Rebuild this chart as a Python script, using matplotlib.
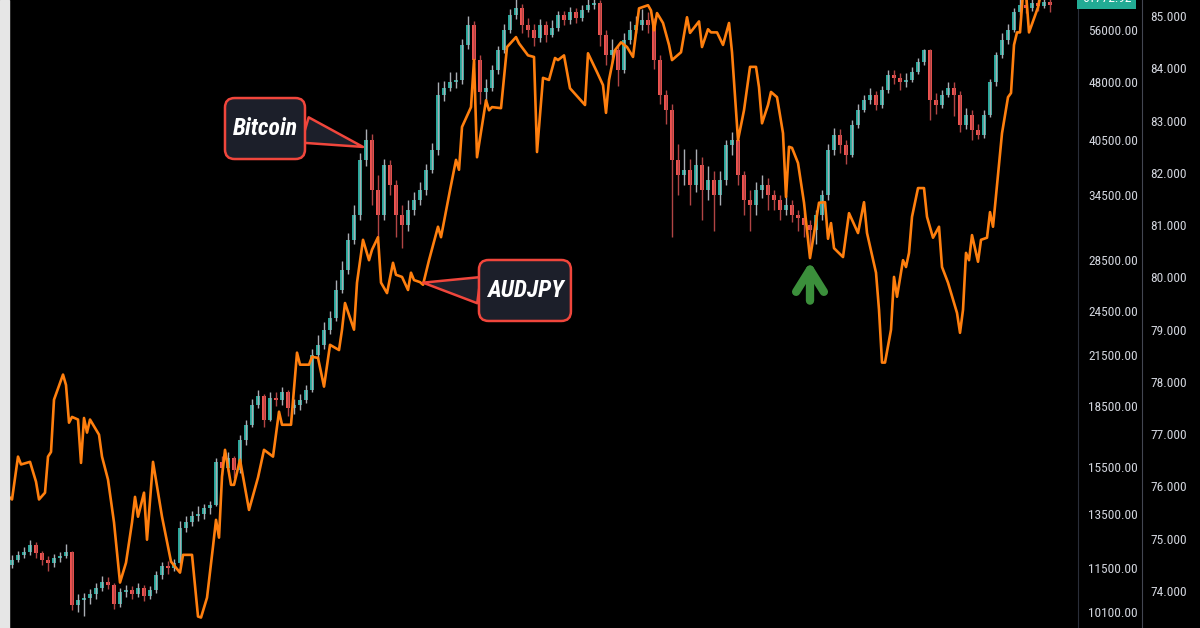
import matplotlib.pyplot as plt
import matplotlib.ticker as mticker
from matplotlib import font_manager as fm
from matplotlib.textpath import TextPath
from matplotlib.patches import Rectangle, FancyBboxPatch
import numpy as np

# Bitcoin, 2-day candles (open = previous close)
btc_first_open = 11600
btc_close = [11770, 11940, 12050, 12300, 12020, 11770, 11670, 11840, 11910, 12050,
             10310, 10460, 10520, 10650, 10840, 11030, 10940, 10340, 10710, 10780,
             10650, 10840, 10590, 10780, 11260, 11560, 11500, 11670, 12930, 13160,
             13400, 13480, 13720, 13840, 15710, 15430, 15890, 15340, 16760, 17510,
             18570, 19070, 17770, 18960, 18850, 19300, 18410, 18570, 18850, 19410,
             21520, 22160, 23160, 23990, 26050, 27630, 30180, 32490, 38200, 40510,
             34970, 32490, 37640, 35490, 32490, 31550, 32970, 33960, 34970, 37090,
             39340, 46250, 47210, 48050, 48340, 53580, 56830, 51270, 46660, 47210,
             49780, 52800, 56000, 58530, 59750, 56830, 56000, 54700, 56830, 55180,
             56330, 58530, 57670, 59050, 58010, 59390, 60280, 60630, 55180, 52030,
             52800, 49780, 54380, 56000, 56830, 57670, 56830, 51270, 46250, 44250,
             38200, 36550, 37090, 35490, 37640, 34970, 36010, 34460, 36010, 39920,
             40510, 36550, 33960, 33460, 34970, 35490, 34460, 33960, 32970, 33460,
             32490, 32200, 31550, 31090, 32490, 34460, 39340, 41110, 39920, 38760,
             42340, 44250, 45580, 46250, 44910, 46940, 49050, 48620, 48050, 48340,
             49490, 50970, 52800, 45580, 44910, 46250, 47210, 46250, 42340, 43610,
             41720, 41110, 43610, 48050, 52030, 54380, 56000, 59050, 60280, 59750,
             60630, 60100, 60810, 60280]
btc_high = [11950, 12100, 12250, 12500, 12400, 12100, 11900, 12000, 12050, 12350,
            12100, 10650, 10700, 10800, 11000, 11250, 11200, 11000, 10850, 10950,
            10900, 11000, 10950, 10900, 11400, 11700, 11750, 11800, 13200, 13400,
            13600, 13800, 13900, 14000, 15900, 16000, 16200, 16000, 17000, 17800,
            18900, 19400, 19200, 19300, 19300, 19600, 19400, 18900, 19200, 19700,
            21900, 22800, 23700, 24500, 26800, 28400, 30800, 33500, 39000, 41900,
            41300, 36500, 38300, 38200, 36000, 33500, 34000, 34800, 35800, 37800,
            40200, 48000, 48200, 49500, 49500, 54500, 58300, 57500, 52000, 48500,
            50500, 53500, 57000, 59500, 61500, 60500, 58000, 57000, 57800, 57500,
            57600, 59200, 59300, 60000, 59800, 60300, 61500, 64000, 61200, 56000,
            54500, 53500, 55500, 57500, 58300, 59500, 59000, 58000, 52000, 47000,
            45000, 40000, 39500, 38300, 39500, 38500, 37500, 37000, 37000, 40500,
            41500, 41000, 37000, 35000, 35800, 36500, 36200, 35000, 34500, 34500,
            34000, 33000, 32800, 32000, 33000, 35000, 40000, 42000, 41800, 40500,
            43000, 45000, 46300, 47200, 46800, 47500, 49800, 49800, 49300, 49300,
            50200, 51600, 53000, 53000, 46500, 47000, 48000, 48000, 46800, 44500,
            44200, 42500, 44200, 48500, 52500, 55500, 57000, 59800, 61500, 61800,
            62000, 61800, 62500, 61500]
btc_low = [11500, 11700, 11850, 11950, 11850, 11600, 11400, 11550, 11700, 11850,
           10150, 10100, 10000, 10350, 10500, 10750, 10800, 10200, 10250, 10550,
           10500, 10550, 10450, 10500, 10700, 11150, 11300, 11400, 11600, 12800,
           13000, 13200, 13300, 13500, 13800, 15100, 15300, 15000, 15200, 16500,
           17400, 18400, 17400, 17700, 18500, 18600, 18000, 18100, 18300, 18700,
           19300, 21300, 21900, 22900, 23800, 25800, 27300, 29800, 32000, 37500,
           33500, 30500, 32000, 34500, 30500, 29500, 31000, 32500, 33500, 34500,
           36800, 38800, 45500, 46800, 47200, 47800, 53000, 50500, 45000, 45500,
           46800, 49200, 52300, 55500, 57800, 55500, 54800, 53500, 54000, 54000,
           54800, 55800, 56800, 57000, 57200, 57500, 59000, 59500, 53500, 50500,
           50800, 47500, 49300, 53800, 55500, 56000, 55500, 50000, 45000, 42500,
           30500, 34500, 35500, 33500, 34800, 32000, 34000, 31000, 33500, 35500,
           38800, 35500, 32500, 31000, 32500, 34200, 33000, 33000, 32000, 32500,
           31800, 31000, 30500, 29300, 29800, 32000, 34000, 38800, 39000, 37800,
           38500, 42000, 44000, 45000, 44300, 44500, 46500, 47800, 47000, 47300,
           48000, 49200, 50500, 43000, 43800, 44500, 46000, 43500, 41500, 41800,
           40500, 40600, 40800, 43300, 47500, 51500, 53800, 55600, 58500, 58800,
           59300, 59200, 59800, 59000]

# AUDJPY, sampled on the same day axis
audjpy_day = [-1, 0, 2, 3, 6, 8, 9, 11, 12, 13,
              14, 17, 18, 19, 20, 22, 23, 24, 25, 26,
              29, 30, 32, 34, 36, 38, 40, 41, 42, 44,
              45, 47, 50, 53, 56, 57, 60, 62, 63, 65,
              67, 68, 69, 70, 71, 73, 74, 76, 79, 82,
              84, 87, 89, 90, 93, 95, 96, 99, 100, 102,
              104, 106, 109, 110, 111, 114, 115, 117, 119, 120,
              122, 123, 125, 127, 128, 130, 132, 133, 134, 136,
              137, 139, 142, 143, 146, 148, 149, 150, 153, 154,
              155, 158, 159, 160, 163, 165, 168, 169, 172, 174,
              175, 177, 179, 181, 182, 184, 186, 191, 192, 195,
              197, 198, 199, 201, 203, 205, 207, 209, 212, 213,
              214, 215, 217, 219, 220, 223, 225, 226, 229, 230,
              232, 233, 235, 237, 239, 240, 242, 244, 246, 248,
              249, 250, 252, 253, 255, 257, 258, 259, 260, 262,
              264, 266, 269, 271, 272, 273, 274, 277, 279, 282,
              284, 285, 288, 289, 290, 291, 293, 294, 295, 297,
              298, 299, 300, 302, 304, 305, 307, 309, 310, 312,
              315, 316, 317, 318, 319, 320, 322, 323, 325, 326,
              327, 330, 332, 333, 334, 335, 336, 337, 338, 339,
              342, 343, 347]
audjpy = [75.80, 75.75, 76.57, 76.42, 76.47, 76.09, 75.75, 75.88, 76.57, 76.66,
          77.66, 78.14, 77.94, 77.22, 77.33, 77.28, 76.45, 77.31, 77.03, 77.28,
          76.99, 76.57, 76.13, 75.31, 74.16, 74.54, 75.31, 75.80, 75.42, 75.88,
          74.98, 76.47, 75.42, 74.56, 74.35, 74.69, 74.69, 73.51, 73.49, 73.87,
          74.85, 75.36, 75.02, 76.19, 76.70, 76.03, 76.03, 76.51, 75.55, 76.17,
          76.70, 76.57, 77.43, 77.18, 77.18, 78.56, 78.33, 78.33, 78.48, 78.46,
          77.91, 78.71, 78.61, 79.00, 79.51, 79.00, 79.90, 80.72, 80.33, 80.53,
          80.77, 79.90, 79.70, 80.28, 80.05, 80.01, 79.76, 80.09, 79.95, 79.91,
          79.86, 80.33, 80.97, 80.77, 81.67, 82.25, 82.06, 82.88, 83.26, 84.16,
          82.30, 83.39, 83.20, 83.26, 83.24, 84.41, 84.60, 84.48, 84.25, 84.22,
          82.40, 83.82, 83.78, 84.20, 84.16, 84.25, 83.62, 83.30, 84.29, 83.93,
          83.68, 83.15, 83.78, 84.35, 84.50, 84.41, 84.22, 85.15, 85.21, 85.11,
          84.73, 85.06, 84.87, 84.45, 84.16, 84.31, 84.98, 84.68, 84.90, 84.41,
          84.75, 84.69, 84.69, 84.45, 84.87, 84.31, 82.63, 83.20, 84.03, 84.03,
          83.64, 82.95, 83.30, 83.55, 83.45, 82.76, 81.54, 82.50, 82.48, 82.19,
          81.43, 80.37, 81.43, 81.44, 80.74, 81.04, 80.56, 80.39, 81.23, 80.85,
          81.44, 80.85, 80.09, 79.38, 78.37, 78.37, 79.00, 80.01, 79.63, 80.33,
          80.20, 80.47, 81.16, 81.71, 81.71, 81.16, 80.76, 80.97, 80.20, 79.90,
          79.32, 78.94, 79.38, 80.47, 80.33, 80.81, 80.30, 80.72, 80.76, 81.25,
          80.97, 82.76, 83.45, 83.53, 84.45, 84.69, 84.69, 85.45, 85.45, 84.69,
          85.17, 85.45, 85.50]

btc_ticks = [10100, 11500, 13500, 15500, 18500, 21500, 24500, 28500, 34500, 40500, 48000, 56000]
audjpy_ticks = [74, 75, 76, 77, 78, 79, 80, 81, 82, 83, 84, 85]
last_price = '61772.92'

UP, DOWN = '#26a69a', '#ef5350'
ORANGE = '#ff7f0e'
RED_EDGE = '#f0463c'
BOX_BG = '#1c1f2a'
LABEL = '#d1d4dc'

# pick a narrow face if one is installed (the source uses condensed type)
available = {f.name for f in fm.fontManager.ttflist}
narrow = next((n for n in ['Liberation Sans Narrow', 'Roboto Condensed', 'Open Sans Condensed',
                           'DejaVu Sans Condensed'] if n in available), 'Liberation Sans')
plt.rcParams['font.family'] = [narrow, 'Liberation Sans', 'DejaVu Sans']


def size_for_width(text, px, cap, **kw):
    fp = fm.FontProperties(family=[narrow, 'Liberation Sans', 'DejaVu Sans'], **kw)
    w = TextPath((0, 0), text, size=1, prop=fp).get_extents().width
    return min(px / w * 0.72, cap)


tick_size = size_for_width('56000.00', 48, 11)
call_size = size_for_width('Bitcoin', 64, 18, weight='bold', style='italic')

close = np.array(btc_close, dtype=float)
high = np.array(btc_high, dtype=float)
low = np.array(btc_low, dtype=float)
opens = np.r_[btc_first_open, close[:-1]]
day = np.arange(len(close)) * 2
up = close >= opens

fig = plt.figure(figsize=(12, 6.28), dpi=100, facecolor='black')
fig.patches.append(Rectangle((0, 0), 9 / 1200, 1, transform=fig.transFigure,
                             color='#e6e6e6', zorder=0))
ax = fig.add_axes([10 / 1200, 0, 1068 / 1200, 1])
ax.set_facecolor('black')
ax.set_yscale('log')
ax2 = ax.twinx()

ax.vlines(day, low, high, colors=np.where(up, '#a9adb3', '#b04444'), lw=1)
ax.bar(day, np.maximum(np.abs(close - opens), close * 0.002),
       bottom=np.minimum(close, opens), width=1.3,
       color=np.where(up, UP, DOWN), lw=0)

ax.set_xlim(-0.67, 355.33)
ax.set_ylim(9640, 61170)
ax.yaxis.tick_right()
ax.yaxis.set_label_position('right')
ax.set_yticks(btc_ticks)
ax.set_yticklabels([f'{t:.2f}' for t in btc_ticks])
ax.yaxis.set_minor_locator(mticker.NullLocator())
ax.tick_params(axis='y', which='both', left=False, right=False, labelleft=False, labelright=True,
               pad=4, labelsize=tick_size, labelcolor=LABEL)
ax.set_xticks([])
for s in ['top', 'bottom', 'left']:
    ax.spines[s].set_visible(False)
ax.spines['right'].set_color('#2a2e39')

ax.text(1.027, 1.003, last_price, transform=ax.transAxes, ha='center', va='center',
        color='white', fontsize=tick_size,
        bbox=dict(boxstyle='square,pad=0.35', fc='#22ab94', ec='none'), clip_on=False)

ax2.plot(audjpy_day, audjpy, color=ORANGE, lw=1.9, zorder=3)
ax2.set_ylim(73.29, 85.31)
ax2.set_yticks(audjpy_ticks)
ax2.set_yticklabels([f'{t:.3f}' for t in audjpy_ticks])
ax2.tick_params(axis='y', length=0, pad=6, labelsize=tick_size, labelcolor=LABEL)
for s in ['top', 'bottom', 'left']:
    ax2.spines[s].set_visible(False)
ax2.spines['right'].set_position(('axes', (1142 - 10) / 1068))
ax2.spines['right'].set_color('#434651')


def callout(axis, label, tip, box, base):
    # wedge tail from the box edge to the point, then the rounded box over it
    axis.annotate('', xy=tip, xycoords='data', xytext=base, textcoords='axes fraction',
                  arrowprops=dict(arrowstyle='wedge,tail_width=0.95', fc=BOX_BG, ec=RED_EDGE,
                                  lw=1.8, mutation_scale=20, shrinkA=0, shrinkB=0),
                  zorder=9)
    x0, y0, w, h = box
    axis.add_patch(FancyBboxPatch((x0, y0), w, h, transform=axis.transAxes,
                                  boxstyle='round,pad=0,rounding_size=0.009',
                                  mutation_aspect=1068 / 628,
                                  fc=BOX_BG, ec=RED_EDGE, lw=1.8, zorder=10, clip_on=False))
    axis.text(x0 + w / 2, y0 + h / 2, label, transform=axis.transAxes, ha='center', va='center',
              color='white', fontsize=call_size, fontweight='bold', fontstyle='italic', zorder=11)


callout(ax2, 'Bitcoin', ax2.transData.inverted().transform(ax.transData.transform((117, 39700))),
        (0.2013, 0.7468, 0.0749, 0.0971), (0.2762, 0.793))
callout(ax2, 'AUDJPY', (137, 79.9), (0.4391, 0.4889, 0.0861, 0.0971), (0.4391, 0.538))

ax2.annotate('', xy=(266, 80.3), xycoords='data', xytext=(0, -28), textcoords='offset points',
             arrowprops=dict(arrowstyle='->,head_length=0.8,head_width=0.5', color='#3b8f3b',
                             lw=6, mutation_scale=20, shrinkA=0, shrinkB=0,
                             capstyle='round', joinstyle='round'),
             zorder=11)

plt.savefig('out.png', dpi=100, facecolor='black')
